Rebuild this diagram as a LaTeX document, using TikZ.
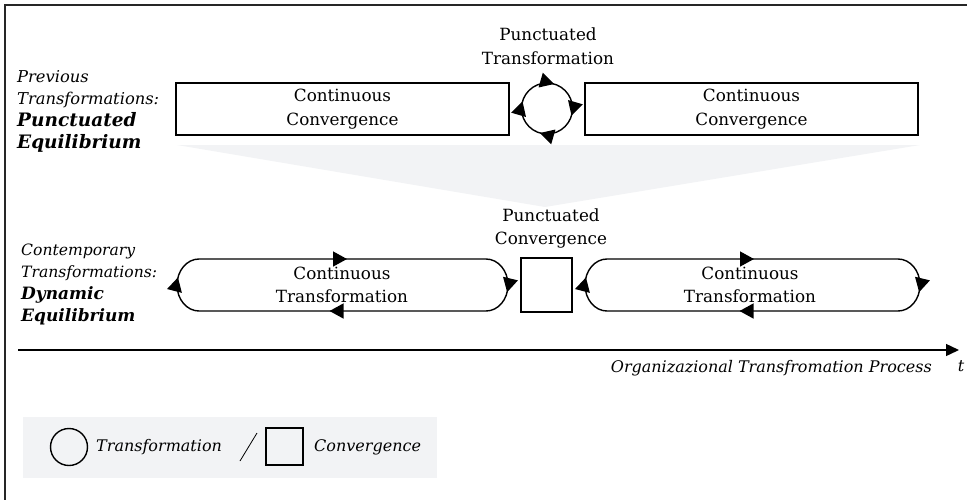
\documentclass[tikz,border=0pt]{standalone}
\usepackage{fontspec}
\setmainfont{DejaVu Serif}
\usetikzlibrary{arrows.meta,decorations.markings}

\definecolor{panelgray}{HTML}{F2F3F5}
\newcommand\txtsize{\fontsize{16.8}{23.5}\selectfont}
\newcommand\axsize{\fontsize{16}{18}\selectfont}
\newcommand\toplbl{\fontsize{16.3}{22}\selectfont\itshape}
\newcommand\topbold{\fontsize{18.5}{22}\selectfont\bfseries\itshape}
\newcommand\lowlbl{\fontsize{15.6}{22}\selectfont\itshape}
\newcommand\lowbold{\fontsize{17}{22}\selectfont\bfseries\itshape}

\tikzset{
  stroke/.style={line width=1.4pt},
  convbox/.style={draw, stroke, minimum width=333pt, minimum height=52pt,
    inner sep=0pt, align=center, font=\txtsize},
  plain/.style={inner sep=0pt, align=center, font=\txtsize},
  sidelabel/.style={inner sep=0pt, align=left, anchor=west,
    font=\fontsize{16}{22}\selectfont},
  flowtip/.tip={Triangle[length=14pt,width=15pt]},
}

\begin{document}
\begin{tikzpicture}[x=1pt,y=-1pt]
\useasboundingbox (0,0) rectangle (967,499);

% outer frame (only the top and left edges fall inside the page)
\draw[line width=2pt, black!85] (5,520) -- (5,5) -- (990,5);

% ---------- previous transformations ----------
\node[sidelabel] (prevlbl) at (17,111)
  {\toplbl Previous\\\toplbl Transformations:\\\topbold Punctuated\\\topbold Equilibrium};

\node[convbox] (ccL) at (342.5,109) {Continuous\\Convergence};
\node[convbox] (ccR) at (751.5,109) {Continuous\\Convergence};
\node[plain] (ptlbl) at (548,46) {Punctuated\\Transformation};

% transformation cycle between the two convergence periods
\coordinate (cyc) at (547,108.5);
\draw[stroke, postaction={decorate}, decoration={markings,
    mark=at position 0.17 with {\arrow{flowtip}},
    mark=at position 0.42 with {\arrow{flowtip}},
    mark=at position 0.67 with {\arrow{flowtip}},
    mark=at position 0.92 with {\arrow{flowtip}}}]
  (cyc) ++(225:25.5) arc[start angle=225, end angle=585, radius=25.5];

% funnel towards the contemporary view
\fill[panelgray] (177,145) -- (920,145) -- (545,207) -- cycle;

% ---------- contemporary transformations ----------
\node[sidelabel] (contlbl) at (21,284)
  {\lowlbl Contemporary\\\lowlbl Transformations:\\\lowbold Dynamic\\\lowbold Equilibrium};

\node[plain] (pclbl) at (551,228.5) {Punctuated\\Convergence};
\node[draw, stroke, minimum width=51pt, minimum height=54pt, inner sep=0pt] (pc) at (546.5,285) {};

% left continuous-transformation loop
\draw[stroke, postaction={decorate}, decoration={markings,
    mark=at position 148pt with {\arrow{flowtip}},
    mark=at position 332pt with {\arrow{flowtip}},
    mark=at position 519pt with {\arrow{flowtip}},
    mark=at position 695pt with {\arrow{flowtip}}}]
  (199,259) -- (486,259) arc[start angle=-90, end angle=90, x radius=22, y radius=26]
  -- (199,311) arc[start angle=90, end angle=270, x radius=22, y radius=26] -- cycle;
\node[plain] (ctL) at (342,285) {Continuous\\Transformation};

% right continuous-transformation loop
\draw[stroke, postaction={decorate}, decoration={markings,
    mark=at position 147pt with {\arrow{flowtip}},
    mark=at position 336pt with {\arrow{flowtip}},
    mark=at position 525pt with {\arrow{flowtip}},
    mark=at position 703pt with {\arrow{flowtip}}}]
  (607,259) -- (898,259) arc[start angle=-90, end angle=90, x radius=22, y radius=26]
  -- (607,311) arc[start angle=90, end angle=270, x radius=22, y radius=26] -- cycle;
\node[plain] (ctR) at (750,285) {Continuous\\Transformation};

% ---------- time axis ----------
\coordinate (t0) at (18,350);
\coordinate (t1) at (959,350);
\draw[stroke, -{Triangle[length=13pt,width=12pt]}] (t0) -- (t1);
\node[inner sep=0pt, anchor=east, font=\axsize\itshape] (axlbl) at (932,368)
  {Organizazional Transfromation Process};
\node[inner sep=0pt, font=\axsize\itshape] (tlbl) at (961,366) {t};

% ---------- legend ----------
\fill[panelgray] (23,417) rectangle (437,478);
\node[draw, stroke, circle, minimum size=37pt, inner sep=0pt] (lgT) at (69,447) {};
\node[inner sep=0pt, anchor=west, font=\axsize\itshape] (lgTt) at (96,447) {Transformation};
\coordinate (slA) at (257,433);
\coordinate (slB) at (240,461);
\draw[line width=0.8pt] (slA) -- (slB);
\node[draw, stroke, minimum size=37pt, inner sep=0pt] (lgC) at (284.5,446.5) {};
\node[inner sep=0pt, anchor=west, font=\axsize\itshape] (lgCt) at (314,447) {Convergence};

\end{tikzpicture}
\end{document}
